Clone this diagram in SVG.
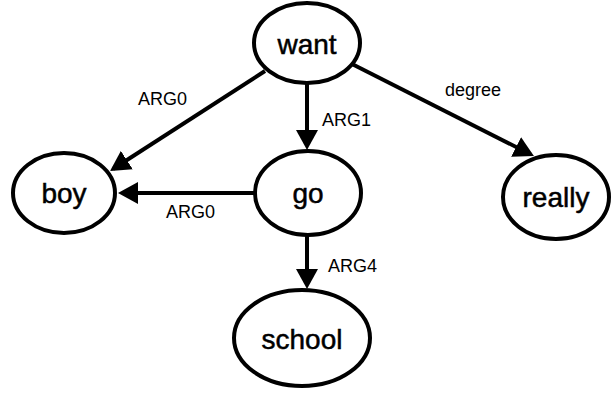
<svg xmlns="http://www.w3.org/2000/svg" width="613" height="393" viewBox="0 0 613 393">
<style>
.node ellipse{fill:#fff;stroke:#000;stroke-width:4}
.node text{font-family:"Liberation Sans",Arial,sans-serif;font-size:28px;text-anchor:middle;fill:#000;stroke:#000;stroke-width:0.5}
.edge line{stroke:#000;stroke-width:4}
.lbl{font-family:"Liberation Sans",Arial,sans-serif;font-size:18px;fill:#000}
</style>
<defs>
<marker id="ah" markerWidth="5" markerHeight="5.5" refX="4" refY="2.75" orient="auto" markerUnits="strokeWidth" viewBox="0 0 5 5.5">
<path d="M0,0 L5,2.75 L0,5.5 z" fill="#000"/>
</marker>
</defs>
<rect width="613" height="393" fill="#fff"/>
<g id="edges" class="edge">
<line x1="265" y1="71" x2="113.4" y2="168.8" marker-end="url(#ah)"/>
<line x1="307" y1="84" x2="307" y2="146" marker-end="url(#ah)"/>
<line x1="352" y1="64" x2="530.4" y2="154.2" marker-end="url(#ah)"/>
<line x1="255" y1="193" x2="122" y2="193" marker-end="url(#ah)"/>
<line x1="307" y1="235" x2="307" y2="285" marker-end="url(#ah)"/>
<text class="lbl" x="138" y="105">ARG0</text>
<text class="lbl" x="322" y="126">ARG1</text>
<text class="lbl" x="445" y="96">degree</text>
<text class="lbl" x="166" y="218">ARG0</text>
<text class="lbl" x="328" y="272">ARG4</text>
</g>
<g id="want" class="node"><ellipse cx="307" cy="43" rx="53" ry="40"/><text x="307" y="54">want</text></g>
<g id="boy" class="node"><ellipse cx="64" cy="193" rx="51" ry="40"/><text x="64" y="203">boy</text></g>
<g id="go" class="node"><ellipse cx="308" cy="193" rx="53" ry="42"/><text x="308" y="203">go</text></g>
<g id="really" class="node"><ellipse cx="556" cy="197" rx="53" ry="42"/><text x="556" y="207">really</text></g>
<g id="school" class="node"><ellipse cx="302" cy="338" rx="68" ry="48"/><text x="302" y="349">school</text></g>
</svg>
